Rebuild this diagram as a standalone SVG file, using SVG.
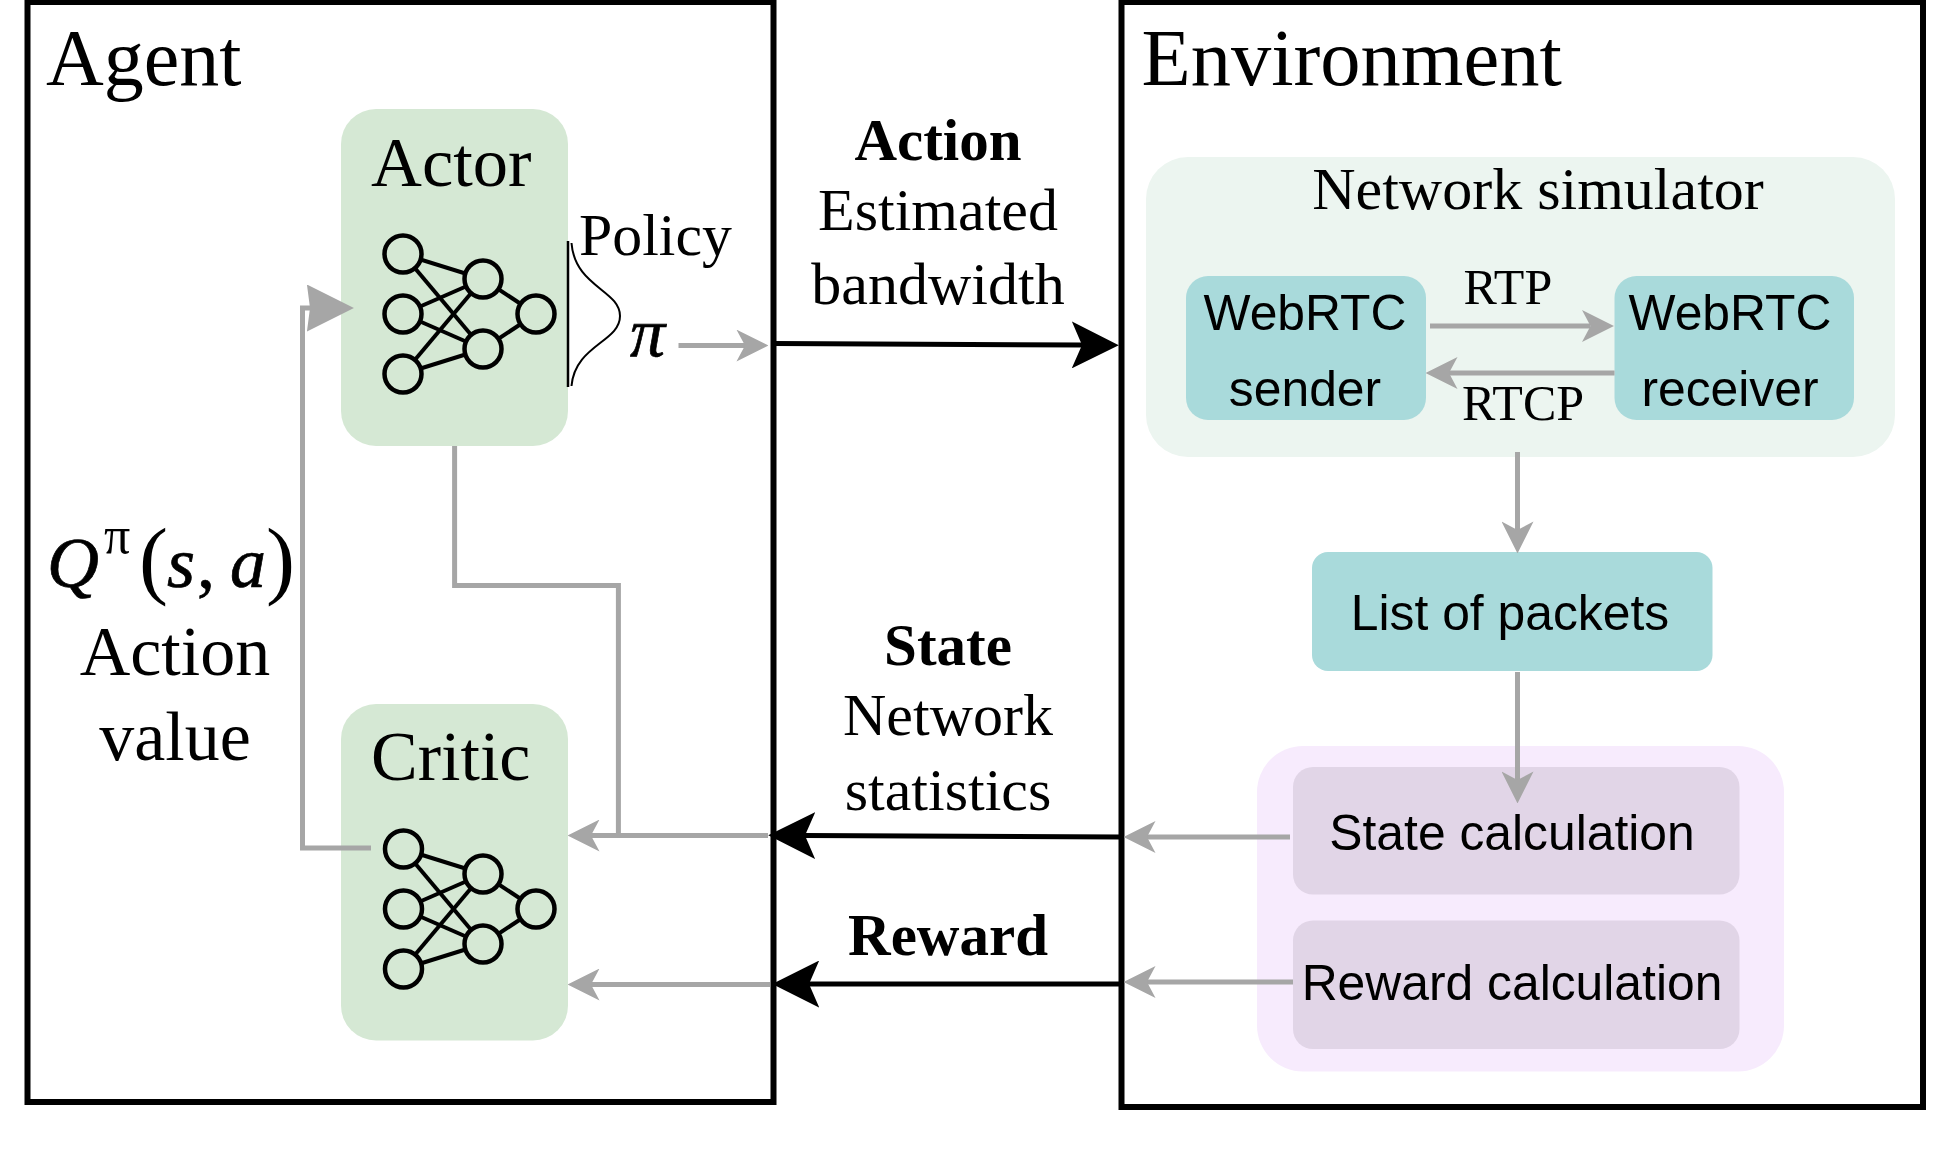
<svg xmlns="http://www.w3.org/2000/svg" width="1945" height="1155" viewBox="0 0 1945 1155">
<style>
.s{font-family:"Liberation Serif",serif;fill:#000}
.a{font-family:"Liberation Sans",sans-serif;fill:#000;font-size:49.8px;text-anchor:middle}
.m{text-anchor:middle}
.b{font-weight:bold}
.mi{font-style:italic;stroke:#000;stroke-width:.7}
.frame{fill:none;stroke:#000;stroke-width:6}
.green{fill:#d5e8d4}.teal{fill:#a9dadb}.calc{fill:#e1d5e7}
.nn line{stroke:#000;stroke-width:4}
.nn ellipse{fill:#d5e8d4;stroke:#000;stroke-width:4.5}
.g{fill:none;stroke:#a6a6a6;stroke-width:5;marker-end:url(#gh)}
.gn{fill:none;stroke:#a6a6a6;stroke-width:5}
.k{fill:none;stroke:#000;stroke-width:5;marker-end:url(#kh)}
</style>
<defs>
<marker id="gh" markerUnits="userSpaceOnUse" markerWidth="32" markerHeight="32" viewBox="0 0 30 30" refX="8" refY="15" orient="auto"><path d="M0,0 L30,15 L0,30 L8,15 Z" fill="#a6a6a6"/></marker>
<marker id="gt" markerUnits="userSpaceOnUse" markerWidth="47" markerHeight="47" viewBox="0 0 46 46" refX="3" refY="23" orient="auto"><path d="M0,0 L46,23 L0,46 L3,23 Z" fill="#a6a6a6"/></marker>
<marker id="kh" markerUnits="userSpaceOnUse" markerWidth="47" markerHeight="47" viewBox="0 0 46 46" refX="10" refY="23" orient="auto"><path d="M0,0 L46,23 L0,46 L10,23 Z" fill="#000"/></marker>
</defs>
<rect width="1945" height="1155" fill="#fff"/>

<g id="agent"><rect class="frame" x="27.5" y="2" width="746" height="1100"/>
<text class="s" x="46" y="85" font-size="80">Agent</text></g>
<g id="environment"><rect class="frame" x="1121.5" y="2" width="801.5" height="1105"/>
<text class="s" x="1141.5" y="85" font-size="80.5">Environment</text></g>

<g id="actor"><rect class="green" x="341" y="109" width="227" height="337" rx="35"/>
<text class="s" x="371" y="186" font-size="70.5">Actor</text>
<g class="nn">
<line x1="403" y1="254" x2="483" y2="279"/><line x1="403" y1="254" x2="483" y2="349"/>
<line x1="403" y1="314" x2="483" y2="279"/><line x1="403" y1="314" x2="483" y2="349"/>
<line x1="403" y1="374" x2="483" y2="279"/><line x1="403" y1="374" x2="483" y2="349"/>
<line x1="483" y1="279" x2="536" y2="314"/><line x1="483" y1="349" x2="536" y2="314"/>
<ellipse cx="403" cy="254" rx="18.5" ry="18.5"/><ellipse cx="403" cy="314" rx="18.5" ry="18.5"/><ellipse cx="403" cy="374" rx="18.5" ry="18.5"/>
<ellipse cx="483" cy="279" rx="18.5" ry="18.5"/><ellipse cx="483" cy="349" rx="18.5" ry="18.5"/><ellipse cx="536" cy="314" rx="18.5" ry="18.5"/>
</g></g>

<g id="critic"><rect class="green" x="341" y="704" width="227" height="336.5" rx="35"/>
<text class="s" x="371" y="780" font-size="70">Critic</text>
<g class="nn">
<line x1="403" y1="849" x2="483" y2="874"/><line x1="403" y1="849" x2="483" y2="944"/>
<line x1="403" y1="909" x2="483" y2="874"/><line x1="403" y1="909" x2="483" y2="944"/>
<line x1="403" y1="969" x2="483" y2="874"/><line x1="403" y1="969" x2="483" y2="944"/>
<line x1="483" y1="874" x2="536" y2="909"/><line x1="483" y1="944" x2="536" y2="909"/>
<ellipse cx="403.500" cy="849" rx="18.5" ry="18.5"/><ellipse cx="403.500" cy="909" rx="18.5" ry="18.5"/><ellipse cx="403.500" cy="969" rx="18.5" ry="18.5"/>
<ellipse cx="483" cy="874" rx="18.5" ry="18.5"/><ellipse cx="483" cy="944" rx="18.5" ry="18.5"/><ellipse cx="536" cy="909" rx="18.5" ry="18.5"/>
</g></g>

<g id="policy">
<path d="M568,241 V387" fill="none" stroke="#000" stroke-width="2.5"/>
<path d="M571.5,243 C575,287 620,290 620,316 C620,342 575,345 571.5,386" fill="none" stroke="#000" stroke-width="2"/>
<text class="s" x="579" y="254.5" font-size="59.8">Policy</text>
<text class="s mi" x="630" y="356" font-size="70">π</text>
</g>

<g id="action-value">
<text class="s mi" y="587" font-size="72"><tspan x="47">Q</tspan><tspan x="104" y="553" font-size="52" font-style="normal" stroke-width="0">π</tspan><tspan x="139" y="588" font-size="87" font-style="normal" stroke-width="0">(</tspan><tspan x="167" y="587">s</tspan><tspan x="197" font-style="normal">,</tspan><tspan x="230">a</tspan><tspan x="266" y="588" font-size="87" font-style="normal" stroke-width="0">)</tspan></text>
<text class="s m" x="175" y="675" font-size="70">Action</text>
<text class="s m" x="175" y="760" font-size="70">value</text>
</g>

<g id="network-simulator"><rect x="1146" y="157" width="749" height="300" rx="42" fill="#ecf5f0"/>
<text class="s m" x="1538" y="209" font-size="60">Network simulator</text></g>
<g id="webrtc-sender"><rect class="teal" x="1186" y="276" width="240" height="144" rx="22"/>
<text class="a" x="1305" y="330">WebRTC</text><text class="a" x="1305" y="406">sender</text></g>
<g id="webrtc-receiver"><rect class="teal" x="1614.5" y="276" width="239.5" height="144" rx="22"/>
<text class="a" x="1730" y="330">WebRTC</text><text class="a" x="1730" y="406">receiver</text></g>
<g id="list-of-packets"><rect class="teal" x="1312" y="552" width="400.5" height="119" rx="16"/>
<text class="a" x="1510" y="630">List of packets</text></g>
<g id="calculation-group"><rect x="1257" y="746" width="527" height="325.5" rx="46" fill="#f7ebfd"/></g>
<g id="state-calculation"><rect class="calc" x="1293" y="767" width="446.5" height="127.500" rx="20"/>
<text class="a" x="1512" y="850">State calculation</text></g>
<g id="reward-calculation"><rect class="calc" x="1293" y="920.500" width="446.5" height="128.500" rx="20"/>
<text class="a" x="1512" y="1000">Reward calculation</text></g>

<g id="connectors">
<path class="gn" d="M371,848 H302.5 V308 H310" style="marker-end:url(#gt)"/>
<path class="gn" d="M454.6,446 V585.6 H618.4 V835"/>
<path class="g" d="M768,835.500 H591"/>
<path class="g" d="M770,984.5 H591"/>
<path class="g" d="M678.5,345.6 H745"/>
<path class="g" d="M1430,326 H1590.5"/>
<path class="g" d="M1614.5,373 H1449"/>
<path class="g" d="M1517.5,452 V530"/>
<path class="g" d="M1517.5,672 V780"/>
<path class="g" d="M1290,837 H1147"/>
<path class="g" d="M1293,982 H1147"/>
<path class="k" d="M775.5,343.5 L1082,345"/>
<path class="k" d="M1121,837 L805,835.500"/>
<path class="k" d="M1121,984 L809,984"/>
</g>

<g id="labels">
<text class="s m b" x="938" y="160" font-size="59">Action</text>
<text class="s m" x="938" y="230" font-size="60">Estimated</text>
<text class="s m" x="938" y="304" font-size="60">bandwidth</text>
<text class="s m b" x="948" y="665" font-size="59">State</text>
<text class="s m" x="948" y="735" font-size="60">Network</text>
<text class="s m" x="948" y="810" font-size="60">statistics</text>
<text class="s m b" x="948" y="955" font-size="59">Reward</text>
<text class="s" x="1463.5" y="304" font-size="50">RTP</text>
<text class="s" x="1462" y="420" font-size="50">RTCP</text>
</g>
</svg>
